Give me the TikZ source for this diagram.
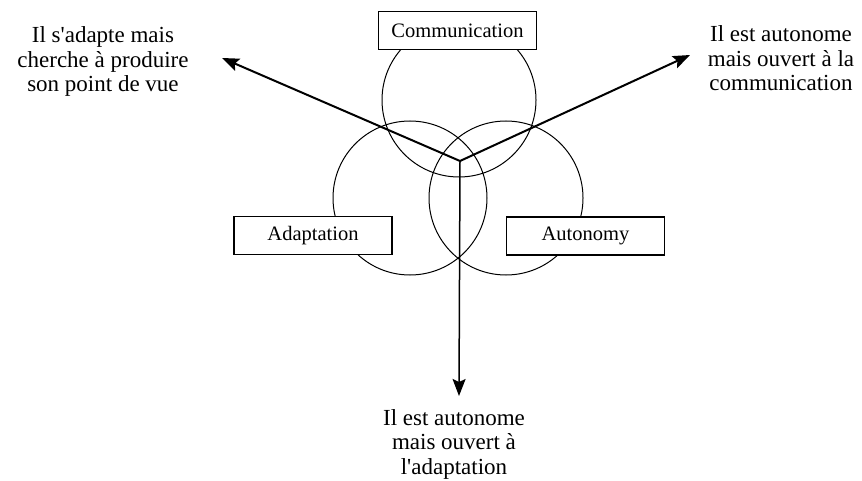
\documentclass[tikz,border=0pt]{standalone}
\usepackage{fontspec}
\setmainfont{Liberation Serif}
\usetikzlibrary{arrows.meta}
\begin{document}
\begin{tikzpicture}[x=1pt,y=-1pt,
  ring/.style={circle, draw, line width=1pt, minimum size=154pt, inner sep=0pt},
  labelbox/.style={draw, fill=white, line width=1.4pt, minimum width=158pt,
    minimum height=38pt, inner sep=0pt, font=\fontsize{20.5}{24}\selectfont},
  outcome/.style={align=center, inner sep=0pt, anchor=base,
    font=\fontsize{23}{24.5}\selectfont},
  pointer/.style={line width=2pt, -{Stealth[length=17pt,width=13pt,inset=3pt]}}
]
\useasboundingbox (0,0) rectangle (862,481);

% three overlapping circles
\node[ring] (ctop)   at (459,100) {};
\node[ring] (cleft)  at (410,198) {};
\node[ring] (cright) at (506,198) {};

% arrows leaving the common point
\coordinate (hub)  at (460,161);
\coordinate (tipL) at (222,58);
\coordinate (tipR) at (690,55);
\coordinate (tipB) at (459,396);
\draw[pointer] (hub) -- (tipL);
\draw[pointer] (hub) -- (tipR);
\draw[pointer, line width=1.5pt] (hub) -- (tipB);

% labelled boxes
\node[labelbox] (comm)  at (457.5,30.5) {Communication};
\node[labelbox] (adapt) at (313,235.5)  {Adaptation};
\node[labelbox] (auto)  at (585.5,236)  {Autonomy};

% outcome texts (anchored on the baseline of the last line)
\node[outcome] (outL) at (103,92) {Il s\textquotesingle adapte mais\\cherche à produire\\son point de vue};
\node[outcome] (outR) at (781,91) {Il est autonome\\mais ouvert à la\\communication};
\node[outcome] (outB) at (454,474) {Il est autonome\\mais ouvert à\\l\textquotesingle adaptation};
\end{tikzpicture}
\end{document}
